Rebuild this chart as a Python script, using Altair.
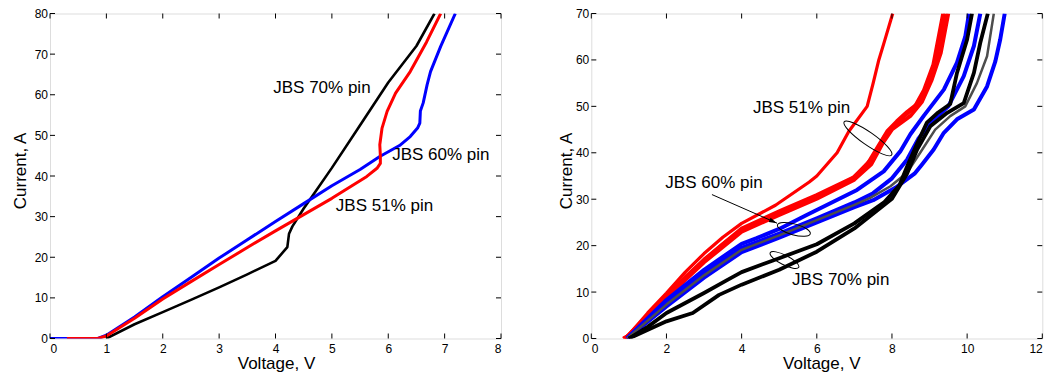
import altair as alt
import pandas as pd

FONT = "Liberation Sans"

# ---------------- Left panel data ----------------
L_XTICKS = [0, 1, 2, 3, 4, 5, 6, 7, 8]
L_YTICKS = [0, 10, 20, 30, 40, 50, 60, 70, 80]

L70_V = [1.0, 1.5, 2.0, 2.5, 3.0, 3.5, 4.0, 4.21, 4.24, 4.3, 4.5, 4.71, 5.0, 5.5, 6.0, 6.5, 6.82]
L70_I = [0.0, 3.5, 6.5, 9.5, 12.6, 15.8, 19.1, 22.5, 25.8, 27.6, 32.0, 36.2, 42.0, 52.5, 63.0, 72.0, 80.0]

L60_V = [0.0, 0.85, 1.0, 1.5, 2.0, 2.5, 3.0, 3.5, 4.0, 4.5, 5.0, 5.5, 5.85, 6.2, 6.39, 6.52, 6.56, 6.57, 6.62, 6.69, 6.75, 6.93, 7.19]
L60_I = [0.0, 0.0, 0.8, 5.3, 10.3, 15.0, 19.8, 24.3, 28.8, 33.2, 37.6, 41.6, 44.8, 47.5, 49.7, 51.8, 53.0, 56.0, 58.0, 62.5, 65.7, 71.9, 80.0]

L51_V = [0.3, 0.85, 1.0, 1.5, 2.0, 2.5, 3.0, 3.5, 4.0, 4.5, 5.0, 5.62, 5.8, 5.86, 5.86, 5.85, 5.89, 5.98, 6.13, 6.39, 6.68, 6.93]
L51_I = [0.0, 0.0, 0.6, 5.0, 9.7, 14.0, 18.2, 22.4, 26.5, 30.5, 34.5, 39.9, 41.9, 43.1, 45.0, 47.7, 51.8, 55.9, 60.4, 65.7, 73.0, 80.0]

L_LABELS = ["JBS 70% pin", "JBS 60% pin", "JBS 51% pin"]
L_LABEL_V = [3.96, 6.07, 5.07]
L_LABEL_I = [61.7, 45.1, 32.7]

# ---------------- Right panel data ----------------
R_XTICKS = [0, 2, 4, 6, 8, 10, 12]
R_YTICKS = [0, 10, 20, 30, 40, 50, 60, 70]

R51A_V = [0.85, 1.0, 1.5, 2.0, 2.5, 3.0, 3.5, 4.0, 4.9, 5.8, 6.0, 6.54, 6.85, 7.34, 7.5, 7.65, 7.8, 8.02]
R51A_I = [0.0, 0.8, 5.5, 9.8, 14.3, 18.3, 21.8, 24.8, 28.7, 33.7, 35.0, 40.0, 44.6, 50.0, 55.0, 60.0, 64.0, 70.0]

R51B_V = [0.85, 1.0, 1.5, 2.0, 2.5, 3.0, 3.5, 4.0, 4.5, 5.0, 6.0, 6.95, 7.34, 7.6, 7.87, 8.13, 8.4, 8.67, 8.93, 9.2, 9.42]
R51B_I = [0.0, 0.6, 5.0, 9.1, 13.2, 16.8, 20.3, 23.4, 25.3, 27.0, 30.5, 34.5, 37.5, 41.0, 44.6, 46.8, 48.8, 50.5, 54.3, 60.8, 70.0]

R51C_V = [0.9, 1.5, 2.0, 3.0, 4.0, 5.0, 6.0, 7.0, 7.45, 7.75, 8.0, 8.5, 8.8, 9.05, 9.3, 9.5]
R51C_I = [0.0, 4.7, 8.8, 16.4, 23.0, 26.6, 30.1, 34.2, 37.5, 42.0, 45.0, 48.0, 51.0, 55.5, 61.5, 70.0]

R51D_V = [0.9, 2.0, 3.0, 4.0, 5.0, 6.0, 7.0, 7.5, 7.8, 8.2, 8.6, 8.85, 9.1, 9.36]
R51D_I = [0.0, 9.3, 17.0, 23.7, 27.4, 30.9, 34.8, 39.0, 43.5, 47.0, 49.8, 53.5, 59.0, 70.0]

R60A_V = [0.95, 2.0, 3.0, 4.0, 4.4, 5.0, 5.73, 7.07, 7.78, 8.22, 8.49, 8.85, 9.38, 9.73, 9.95, 10.05]
R60A_I = [0.0, 8.3, 14.8, 20.4, 21.6, 23.6, 26.6, 32.0, 36.0, 40.3, 44.0, 48.0, 53.6, 59.4, 65.0, 70.0]

R60B_V = [0.95, 2.0, 3.0, 4.0, 5.0, 6.0, 7.0, 7.5, 8.0, 8.4, 8.7, 9.1, 9.5, 9.91, 10.18, 10.35]
R60B_I = [0.0, 7.6, 14.0, 19.5, 22.6, 25.9, 29.3, 31.3, 34.5, 38.5, 43.0, 47.0, 50.0, 56.5, 63.0, 70.0]

R60C_V = [0.95, 2.0, 3.0, 4.0, 5.0, 6.0, 7.0, 7.5, 8.1, 8.6, 8.8, 9.11, 9.38, 9.73, 10.18, 10.53, 10.75, 10.88, 11.0]
R60C_I = [0.0, 6.9, 13.1, 18.6, 21.7, 25.0, 28.3, 29.8, 32.5, 35.5, 37.5, 40.7, 44.3, 47.2, 49.3, 54.3, 59.7, 64.4, 70.0]

R60G_V = [0.95, 2.0, 3.0, 4.0, 5.0, 6.0, 7.0, 7.42, 7.96, 8.4, 8.75, 9.15, 9.55, 9.95, 10.26, 10.53, 10.71]
R60G_I = [0.0, 7.3, 13.6, 19.1, 22.2, 25.5, 28.8, 30.3, 32.8, 35.7, 40.0, 45.0, 47.9, 50.0, 55.0, 60.8, 70.0]

R70A_V = [1.0, 1.5, 2.0, 3.0, 3.6, 4.0, 5.0, 6.0, 7.0, 7.8, 8.2, 8.4, 8.67, 8.93, 9.2, 9.55, 9.73, 10.0, 10.13]
R70A_I = [0.0, 2.5, 5.5, 9.8, 12.5, 14.3, 17.3, 20.3, 24.8, 29.4, 33.0, 37.0, 42.0, 46.5, 48.5, 50.5, 57.2, 64.4, 70.0]

R70B_V = [1.0, 2.0, 2.7, 3.4, 4.0, 5.0, 6.0, 7.0, 8.0, 8.4, 8.67, 9.02, 9.47, 9.91, 10.18, 10.35, 10.55]
R70B_I = [0.0, 3.7, 5.5, 9.4, 11.6, 14.8, 18.7, 23.7, 30.1, 35.5, 40.7, 45.7, 48.6, 50.7, 57.2, 63.7, 70.0]

R_LABELS = ["JBS 51% pin", "JBS 60% pin", "JBS 70% pin"]
R_LABEL_V = [4.3, 1.97, 5.34]
R_LABEL_I = [49.7, 33.5, 12.7]

# ellipses: centre, length, ratio, angle
R_ELL_V = [7.36, 5.39, 5.14]
R_ELL_I = [43.1, 23.5, 16.9]
R_ELL_LEN = [58, 34, 32]
R_ELL_RATIO = [0.22, 0.32, 0.3]
R_ELL_ANGLE = [35, 15, 27]

R_ARROW_V = [3.21, 4.94]
R_ARROW_I = [31.0, 24.85]

W, H = 451, 325


def make_axes(xticks, yticks, ytp, xtitle_x):
    common = dict(ticks=False, tickSize=0, domain=False, grid=False,
                  labelFontSize=12, titleFontSize=17,
                  labelFont=FONT, titleFont=FONT, titleFontWeight="normal",
                  labelColor="black", titleColor="black", format="d")
    ax = alt.Axis(values=xticks, title="Voltage, V", labelPadding=5, titlePadding=1,
                  titleX=xtitle_x, **common)
    ay = alt.Axis(values=yticks, title="Current, A", labelPadding=2.5, titlePadding=ytp,
                  titleY=157, **common)
    return ax, ay


def panel(xdom, ydom, xticks, yticks, series, labels, ytp, xtitle_x, extras=()):
    sx = alt.Scale(domain=xdom, nice=False, zero=False)
    sy = alt.Scale(domain=ydom, nice=False, zero=False)
    ax, ay = make_axes(xticks, yticks, ytp, xtitle_x)

    def X(f):
        return alt.X(f, type="quantitative", scale=sx, axis=ax)

    def Y(f):
        return alt.Y(f, type="quantitative", scale=sy, axis=ay)

    layers = []
    for xs, ys, color, width in series:
        df = pd.DataFrame({"v": xs, "i": ys, "k": list(range(len(xs)))})
        layers.append(alt.Chart(df).mark_line(color=color, strokeWidth=width, clip=True,
                                              strokeJoin="round").encode(
            x=X("v"), y=Y("i"), order=alt.Order("k:Q")))

    txt, tv, ti = labels
    tdf = pd.DataFrame({"t": txt, "v": tv, "i": ti})
    layers.append(alt.Chart(tdf).mark_text(align="left", baseline="middle", font=FONT,
                                           fontSize=17, color="black").encode(
        x=X("v"), y=Y("i"), text="t:N"))

    layers.extend(extras_builder(X, Y) for extras_builder in extras)

    xt = pd.DataFrame({"v": xticks})
    yt = pd.DataFrame({"i": yticks})
    tick = dict(color="black", strokeWidth=1)
    layers.append(alt.Chart(xt).mark_rule(**tick).encode(x=X("v"), y=alt.value(H), y2=alt.value(H - 5)))
    layers.append(alt.Chart(xt).mark_rule(**tick).encode(x=X("v"), y=alt.value(0), y2=alt.value(5)))
    layers.append(alt.Chart(yt).mark_rule(**tick).encode(y=Y("i"), x=alt.value(0), x2=alt.value(5)))
    layers.append(alt.Chart(yt).mark_rule(**tick).encode(y=Y("i"), x=alt.value(W), x2=alt.value(W - 5)))

    return alt.layer(*layers).properties(width=W, height=H)


left = panel([0, 8], [0, 80], L_XTICKS, L_YTICKS,
             [(L70_V, L70_I, "black", 2.6),
              (L60_V, L60_I, "#0000ff", 3),
              (L51_V, L51_I, "#ff0000", 3)],
             (L_LABELS, L_LABEL_V, L_LABEL_I), 5, 226)


def ellipses(X, Y):
    out = []
    for v, i, ln, r, a in zip(R_ELL_V, R_ELL_I, R_ELL_LEN, R_ELL_RATIO, R_ELL_ANGLE):
        path = f"M -1 0 A 1 {r} 0 1 1 1 0 A 1 {r} 0 1 1 -1 0 Z"
        df = pd.DataFrame({"v": [v], "i": [i]})
        out.append(alt.Chart(df).mark_point(shape=path, size=ln * ln, angle=a, filled=False,
                                            color="black", strokeWidth=1, opacity=1).encode(
            x=X("v"), y=Y("i")))
    return alt.layer(*out)


def arrow(X, Y):
    df = pd.DataFrame({"v": R_ARROW_V, "i": R_ARROW_I, "k": [0, 1]})
    shaft = alt.Chart(df).mark_line(color="black", strokeWidth=1).encode(
        x=X("v"), y=Y("i"), order=alt.Order("k:Q"))
    head = alt.Chart(df.iloc[[1]]).mark_point(shape="M 0 0 L -2 -0.6 L -2 0.6 Z", size=64,
                                              angle=23.6, filled=True, color="black",
                                              opacity=1).encode(x=X("v"), y=Y("i"))
    return alt.layer(shaft, head)


right = panel([0, 12], [0, 70], R_XTICKS, R_YTICKS,
              [(R51A_V, R51A_I, "#ff0000", 3.2),
               (R51B_V, R51B_I, "#ff0000", 3.8),
               (R51C_V, R51C_I, "#ff0000", 3.8),
               (R51D_V, R51D_I, "#ff0000", 3.8),
               (R60A_V, R60A_I, "#0000ff", 4),
               (R60C_V, R60C_I, "#0000ff", 4),
               (R60B_V, R60B_I, "#0000ff", 4),
               (R60G_V, R60G_I, "#4d4d4d", 2.5),
               (R70A_V, R70A_I, "black", 3.8),
               (R70B_V, R70B_I, "black", 3.8)],
              (R_LABELS, R_LABEL_V, R_LABEL_I), 0, 230, extras=(ellipses, arrow))

chart = alt.hconcat(left, right, spacing=90.3, bounds="flush").properties(
    padding={"left": 2, "top": -1.5, "right": 0, "bottom": 0}
).configure_view(stroke="black", strokeWidth=1.5).configure(background="white")

chart.save("out.html", embed_options={"renderer": "svg", "actions": False})
